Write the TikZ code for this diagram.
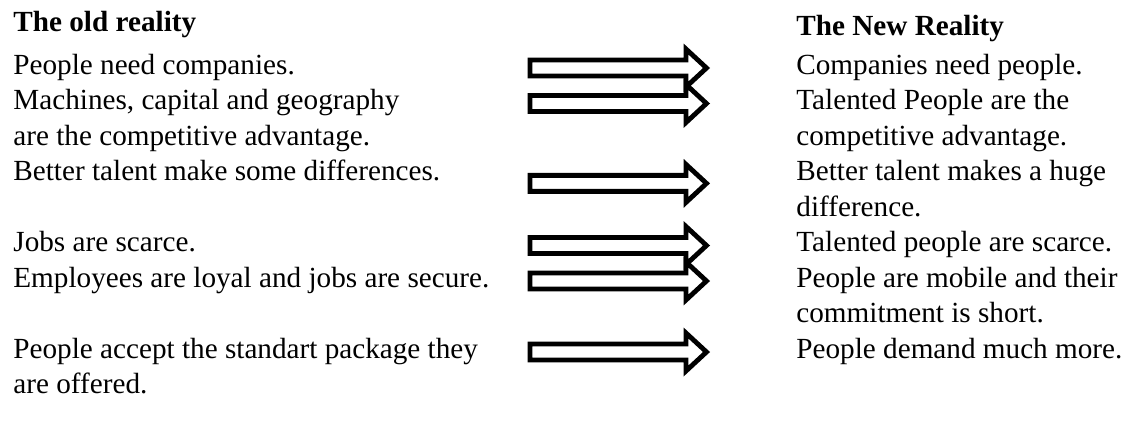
\documentclass[tikz,border=0pt]{standalone}
\usepackage{fontspec}
\setmainfont{Liberation Serif}

\tikzset{%
  reality text/.style={
    anchor=base west,
    align=left,
    inner sep=0pt,
    font=\fontsize{14.6}{17.75}\selectfont
  },
  reality head/.style={
    reality text,
    font=\fontsize{14.6}{17.75}\selectfont\bfseries
  },
  shift arrow/.style={
    draw=black,
    fill=white,
    line width=2.4pt,
    line join=miter
  },
}

\begin{document}
\begin{tikzpicture}[x=0.5pt, y=-0.5pt]
    \useasboundingbox (0,0) rectangle (1136,428);

        \node [reality head] (old-head) at (13,32) {The old reality};
        \node [reality head] (new-head) at (796,35) {The New Reality};
        % arrow row / last line left / last line right
        \foreach \k/\ko/\kn/\txtold/\txtnew [count=\i] in {
            0/0/0/{People need companies.}/{Companies need people.},
            1/2/2/{Machines, capital and geography\\are the competitive advantage.}/{Talented People are the\\competitive advantage.},
            3.25/3/4/{Better talent make some differences.}/{Better talent makes a huge\\difference.},
            5/5/5/{Jobs are scarce.}/{Talented people are scarce.},
            6/6/7/{Employees are loyal and jobs are secure.}/{People are mobile and their\\commitment is short.},
            8/9/8/{People accept the standart package they\\are offered.}/{People demand much more.}}
        {
          \node [reality text] (old-\i) at (13,74+\ko*35.5) {\txtold};
          \node [reality text] (new-\i) at (796,74+\kn*35.5) {\txtnew};
          \draw [shift arrow, shift={(0,{68+\k*35.5})}]
            (530,-8) -- (686,-8) -- (686,-19) -- (706.5,0)
            -- (686,19) -- (686,8) -- (530,8) -- cycle;
        }
\end{tikzpicture}
\end{document}
